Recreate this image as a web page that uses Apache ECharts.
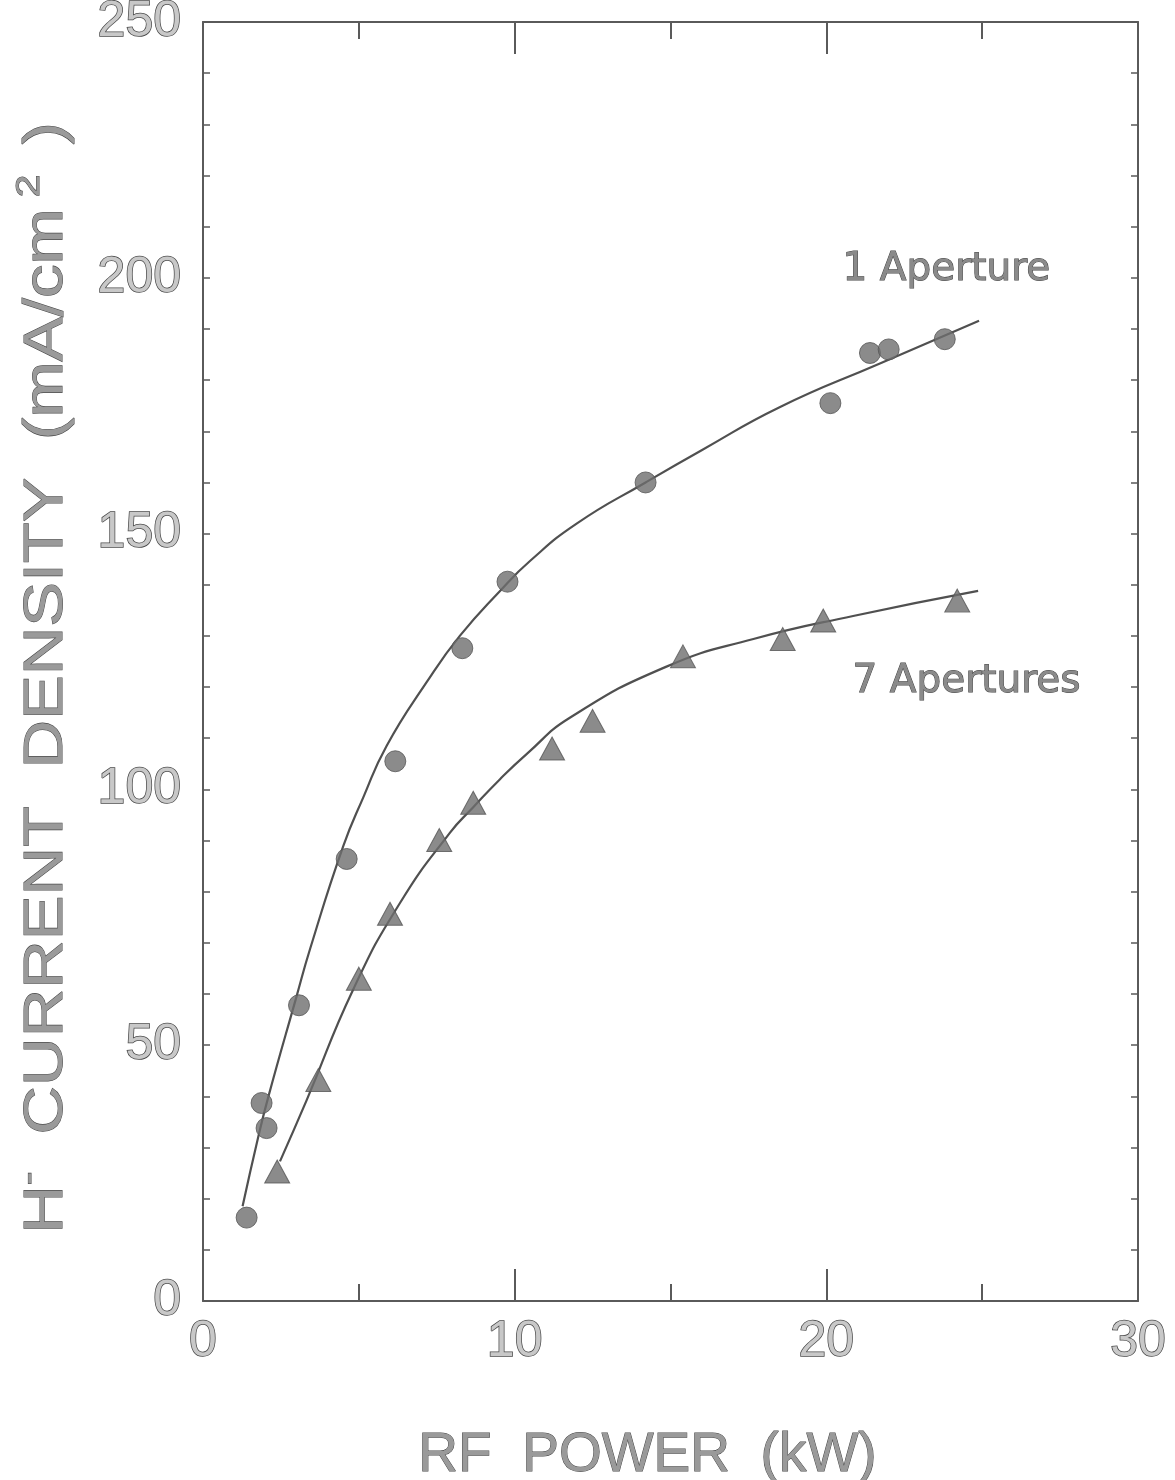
<!DOCTYPE html>
<html>
<head>
<meta charset="utf-8">
<script src="https://cdn.jsdelivr.net/npm/echarts@6/dist/echarts.min.js"></script>
<style>
html,body{margin:0;padding:0;background:#fff;}
#chart{width:1175px;height:1480px;}
</style>
</head>
<body>
<div id="chart"></div>
<script>
// measured points, kW vs mA/cm2
const oneAperture = [[1.40,16.3],[1.88,38.7],[2.04,33.8],[3.08,57.8],[4.61,86.4],[6.17,105.5],[8.32,127.6],[9.77,140.6],[14.2,160],[20.13,175.5],[21.4,185.3],[22.0,186],[23.8,188]];
const sevenApertures = [[2.38,25.3],[3.7,43.2],[5.0,63.0],[6.0,75.7],[7.58,90.1],[8.67,97.4],[11.2,108],[12.5,113.4],[15.4,126],[18.6,129.4],[19.9,133],[24.2,136.9]];
// fitted curves
const oneApertureFit = [[1.27,18.5],[1.77,32],[2.1,40],[3.0,59.5],[3.43,68.7],[4.5,88.9],[5.14,98.4],[5.89,108.5],[7.17,120.9],[8.24,130],[9.53,138.8],[10.5,144.7],[12,152],[14.2,160],[16,166.3],[18.5,174.7],[21.7,183.2],[24.9,191.6]];
const sevenAperturesFit = [[2.47,27.3],[3.33,39.3],[4.82,60.9],[6.32,77.8],[7.92,91.5],[8.67,96.5],[9.53,102],[10.4,107],[11.77,114],[14.87,124],[17.66,129.4],[20.86,133.9],[24.87,138.8]];
const seriesLabels = ['1 Aperture','7 Apertures'];

const gray = '#5a5a5a';
const markColor = '#6e6e6e';
const numStyle = {
    color:'#c8c8c8',
    textBorderColor:'#4a4a4a',
    textBorderWidth:1.5,
    fontFamily:'Liberation Sans',
    fontSize:50
};
const titleText = {fontSize:56,fill:'#9a9a9a',stroke:'#4a4a4a',lineWidth:1,fontFamily:'Liberation Sans',lineHeight:62,verticalAlign:'bottom'};
const supText = {fontSize:34,fill:'#9a9a9a',stroke:'#4a4a4a',lineWidth:1,fontFamily:'Liberation Sans',lineHeight:62,verticalAlign:'top'};

const xAxisBase = {
    type:'value',
    min:0,
    max:30,
    interval:10,
    axisLine:{show:true,onZero:false,lineStyle:{color:gray,width:2}},
    axisTick:{show:true,inside:true,length:32,lineStyle:{color:gray,width:2}},
    minorTick:{show:true,splitNumber:2,length:17,lineStyle:{color:gray,width:2}},
    splitLine:{show:false}
};
const yAxisBase = {
    type:'value',
    min:0,
    max:250,
    interval:50,
    axisLine:{show:true,onZero:false,lineStyle:{color:gray,width:2}},
    axisTick:{show:true,inside:true,length:7,lineStyle:{color:gray,width:1.5}},
    minorTick:{show:true,splitNumber:5,length:7,lineStyle:{color:gray,width:1.5}},
    splitLine:{show:false}
};

const chart = echarts.init(document.getElementById('chart'));
chart.setOption({
    animation:false,
    backgroundColor:'#fff',
    grid:{left:203,right:37,top:22,bottom:179,containLabel:false,outerBoundsMode:'none'},
    xAxis:[
        Object.assign({}, xAxisBase, {
            position:'bottom',
            name:'RF  POWER  (kW)',
            nameLocation:'middle',
            nameGap:127,
            nameTextStyle:Object.assign({}, numStyle, {fontSize:55,color:'#9a9a9a',textBorderWidth:1,padding:[0,46,0,0]}),
            axisLabel:Object.assign({}, numStyle, {margin:16})
        }),
        Object.assign({}, xAxisBase, {position:'top',axisLabel:{show:false}})
    ],
    yAxis:[
        Object.assign({}, yAxisBase, {
            position:'left',
            axisLabel:Object.assign({}, numStyle, {margin:22})
        }),
        Object.assign({}, yAxisBase, {position:'right',axisLabel:{show:false}})
    ],
    graphic:[
        {
            // y axis title, stretched like the original lettering
            type:'text',
            x:44,
            y:678,
            rotation:Math.PI/2,
            scaleX:1.2,
            style:{
                text:'{t|H}{s|-}{t|  CURRENT  DENSITY  (mA/cm}{s| 2 }{t| )}',
                align:'center',
                verticalAlign:'middle',
                rich:{t:titleText,s:supText}
            }
        },
        {type:'text',left:842,top:250,style:{text:seriesLabels[0],font:'39px "DejaVu Sans"',fill:'#8a8a8a',stroke:'#444',lineWidth:1}},
        {type:'text',left:852,top:662,style:{text:seriesLabels[1],font:'39px "DejaVu Sans"',fill:'#8a8a8a',stroke:'#444',lineWidth:1}}
    ],
    series:[
        {
            type:'line',
            data:oneApertureFit,
            smooth:0.5,
            showSymbol:false,
            lineStyle:{color:'#505050',width:2.2},
            z:2
        },
        {
            type:'line',
            data:sevenAperturesFit,
            smooth:0.5,
            showSymbol:false,
            lineStyle:{color:'#505050',width:2.2},
            z:2
        },
        {
            name:seriesLabels[0],
            type:'scatter',
            data:oneAperture,
            symbol:'circle',
            symbolSize:21,
            itemStyle:{color:markColor,borderColor:'#555',borderWidth:1},
            z:3
        },
        {
            name:seriesLabels[1],
            type:'scatter',
            data:sevenApertures,
            symbol:'triangle',
            symbolSize:[25,23],
            itemStyle:{color:markColor,borderColor:'#555',borderWidth:1},
            z:3
        }
    ]
});
window.addEventListener("resize",function(){
    chart.resize();
});
</script>
</body>
</html>
